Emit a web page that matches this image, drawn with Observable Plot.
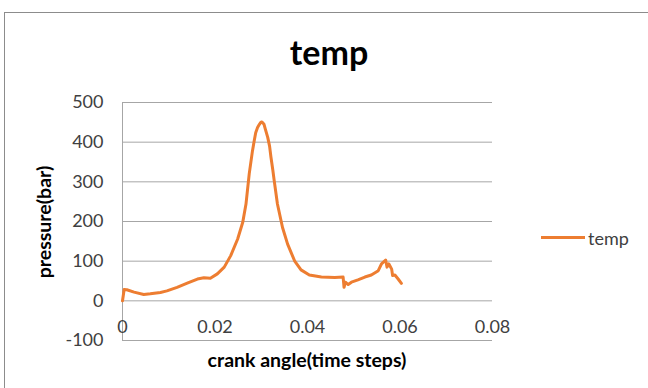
<!DOCTYPE html>
<html><head><meta charset="utf-8">
<script src="https://cdn.jsdelivr.net/npm/d3@7"></script>
<script src="https://cdn.jsdelivr.net/npm/@observablehq/plot@0.6"></script>
<style>
body{margin:0;overflow:hidden;background:#fff;font-family:Lato,sans-serif}
#wrap{position:relative;width:648px;height:388px;overflow:hidden;background:#fff}
#frame{position:absolute;left:4px;top:12px;width:700px;height:450px;border:1.5px solid #8c8c8c}
#chart{position:absolute;left:0;top:0}
.t{position:absolute;line-height:1;white-space:nowrap;color:#000}
#title{left:5px;width:648px;text-align:center;top:35px;font-size:34px;font-weight:bold}
#xtitle{left:0;width:614px;text-align:center;top:350px;font-size:19.5px;font-weight:bold}
#ytitle{left:44px;top:222px;font-size:19.5px;font-weight:bold;transform:translate(-50%,-50%) rotate(-90deg)}
#legline{position:absolute;left:541px;top:235.5px;width:44px;height:3px;background:#ED7D31}
#legtext{left:588px;top:229px;font-size:18px;color:#404040}
</style>
</head><body>
<div id="wrap">
  <div id="frame"></div>
  <div id="chart"></div>
  <div class="t" id="title">temp</div>
  <div class="t" id="xtitle">crank angle(time steps)</div>
  <div class="t" id="ytitle">pressure(bar)</div>
  <div id="legline"></div>
  <div class="t" id="legtext">temp</div>
</div>
<script>
const seriesName = "temp";
const xs = [0, 0.00036, 0.00094, 0.0025, 0.0046, 0.006, 0.0082, 0.0096, 0.0118, 0.014, 0.0162, 0.0176, 0.019, 0.0205, 0.022, 0.0234, 0.0249, 0.026, 0.0267, 0.0274, 0.0281, 0.0285, 0.0288, 0.0292, 0.0296, 0.0299, 0.0301, 0.0303, 0.0306, 0.0309, 0.0314, 0.0318, 0.0321, 0.0325, 0.0328, 0.0335, 0.0346, 0.0357, 0.0372, 0.0386, 0.0404, 0.043, 0.0459, 0.0477, 0.0479, 0.0482, 0.0488, 0.0495, 0.0509, 0.0524, 0.0538, 0.0553, 0.056, 0.0569, 0.0572, 0.0576, 0.0582, 0.0584, 0.0589, 0.0596, 0.0603];
const ys = [0, 28.5, 28, 22, 16, 17.6, 21, 25, 34, 44.5, 55, 58, 57, 68, 85, 114, 156, 198, 244, 320, 378, 405, 424, 437, 445, 450, 451, 449, 445, 432, 412, 390, 362, 330, 303, 244, 185, 143, 101, 78, 65, 60, 59, 60, 34, 47, 41, 47, 53, 60, 65, 76, 93, 103, 85, 93, 80, 64, 65, 55, 44];
const xTicks = [0, 0.02, 0.04, 0.06, 0.08];
const xTickLabels = ["0", "0.02", "0.04", "0.06", "0.08"];
const yTicks = [-100, 0, 100, 200, 300, 400, 500];
const yTickLabels = ["-100", "0", "100", "200", "300", "400", "500"];

const data = xs.map((x, i) => ({x, y: ys[i], series: seriesName}));
const gridColor = "#a6a6a6";

const chart = Plot.plot({
  width: 648, height: 388,
  marginTop: 102, marginBottom: 48, marginLeft: 122, marginRight: 156,
  style: {fontFamily: "Lato, sans-serif", fontSize: "18px", color: "#404040", background: "transparent", overflow: "visible"},
  x: {domain: [xTicks[0], xTicks[xTicks.length - 1]]},
  y: {domain: [yTicks[0], yTicks[yTicks.length - 1]]},
  marks: [
    Plot.gridY(yTicks, {stroke: gridColor, strokeOpacity: 1, strokeWidth: 1}),
    Plot.ruleX([xTicks[0]], {y1: yTicks[0], y2: yTicks[yTicks.length - 1], stroke: gridColor, strokeWidth: 1}),
    Plot.axisY(yTicks, {tickSize: 0, tickPadding: 19, label: null, tickFormat: (d) => yTickLabels[yTicks.indexOf(d)]}),
    Plot.axisX(xTicks, {tickSize: 0, tickPadding: 0, dy: -20, label: null, tickFormat: (d) => xTickLabels[xTicks.indexOf(d)]}),
    Plot.line(data, {x: "x", y: "y", stroke: "#ED7D31", strokeWidth: 3, strokeLinejoin: "round", strokeLinecap: "round"})
  ]
});
document.getElementById("chart").appendChild(chart);
</script>
</body></html>
